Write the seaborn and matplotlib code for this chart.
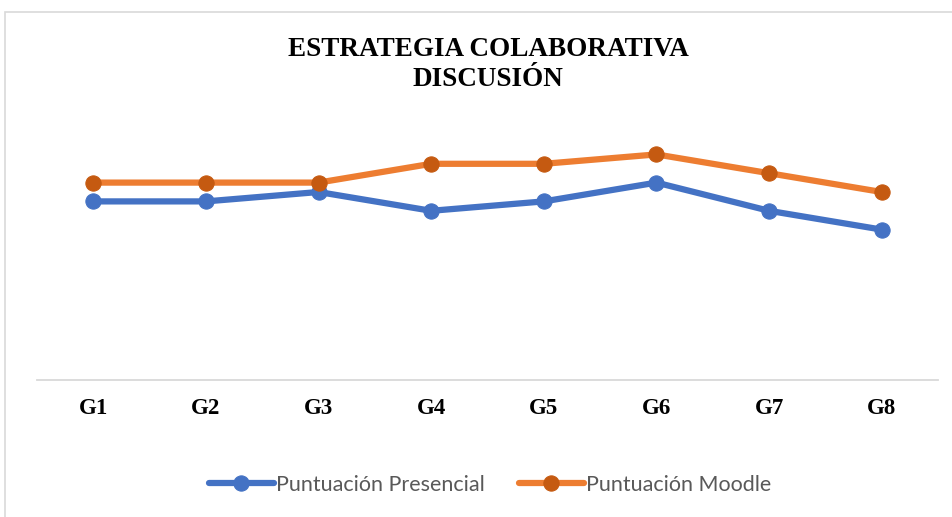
import matplotlib
matplotlib.use("Agg")
import matplotlib.pyplot as plt
import seaborn as sns
import pandas as pd
from matplotlib.patches import Rectangle

# data
grupos = ['G1', 'G2', 'G3', 'G4', 'G5', 'G6', 'G7', 'G8']
presencial = [19, 19, 20, 18, 19, 21, 18, 16]
moodle = [21, 21, 21, 23, 23, 24, 22, 20]

df = pd.DataFrame({'grupo': grupos, 'Puntuación Presencial': presencial,
                   'Puntuación Moodle': moodle})

sns.set_style("white")
plt.rcParams['font.family'] = ['Liberation Serif', 'DejaVu Serif']

W, H = 953, 517
fig = plt.figure(figsize=(W / 100, H / 100), dpi=100)
ax = fig.add_axes([37 / W, 137 / H, 901 / W, 282 / H])

sns.lineplot(data=df, x='grupo', y='Puntuación Presencial', ax=ax, color='#4472C4',
             linewidth=4.5, marker='o', markersize=11, markerfacecolor='#4472C4',
             markeredgecolor='#4472C4', label='Puntuación Presencial', legend=False)
sns.lineplot(data=df, x='grupo', y='Puntuación Moodle', ax=ax, color='#ED7D31',
             linewidth=4.5, marker='o', markersize=11, markerfacecolor='#C55A11',
             markeredgecolor='#C55A11', label='Puntuación Moodle', legend=False)

ax.set_xlim(-0.5, 7.5)
ax.set_ylim(0, 30)
ax.set_xlabel('')
ax.set_ylabel('')
ax.set_yticks([])
ax.set_xticks(range(len(grupos)))
ax.set_xticklabels(grupos, fontsize=16.5, fontweight='bold', color='black')
ax.tick_params(axis='x', length=0, pad=13)
for s in ['top', 'left', 'right']:
    ax.spines[s].set_visible(False)
ax.spines['bottom'].set_color('#D9D9D9')
ax.spines['bottom'].set_linewidth(1.3)

fig.text(488 / W, 1 - 37 / H, 'ESTRATEGIA COLABORATIVA\nDISCUSIÓN', ha='center', va='top',
         fontsize=19.5, fontweight='bold', linespacing=1.25, color='black')

handles, labels = ax.get_legend_handles_labels()
fig.legend(handles, labels, loc='center', bbox_to_anchor=(490 / W, 1 - 485 / H), ncol=2,
           frameon=False, prop={'family': 'Lato', 'size': 15.5}, labelcolor='#595959',
           handlelength=3.0, handletextpad=0.1, columnspacing=1.6)

fig.add_artist(Rectangle((5 / W, -0.05), 1.0, (H - 12) / H + 0.05, transform=fig.transFigure,
                         fill=False, edgecolor='#D9D9D9', linewidth=1.2))

fig.savefig('out.png', dpi=100, facecolor='white')
